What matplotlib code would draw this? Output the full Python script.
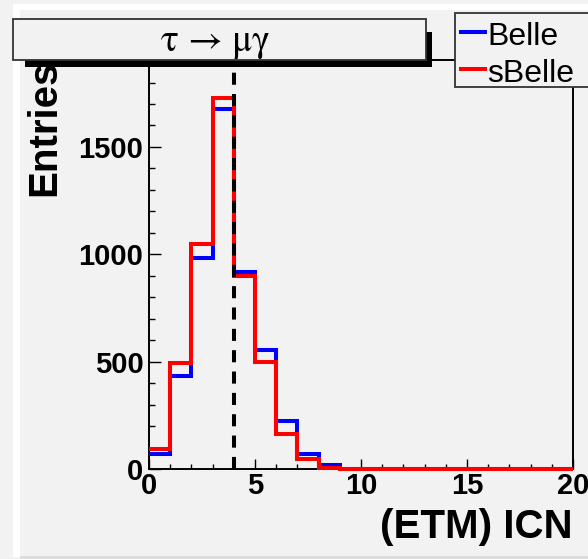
import matplotlib
matplotlib.use('Agg')
import matplotlib.pyplot as plt
from matplotlib.patches import Rectangle
from matplotlib.lines import Line2D
import numpy as np

# histogram contents, 20 bins of width 1 from 0 to 20
bin_edges = list(range(0, 21))
belle = [72, 435, 985, 1675, 918, 553, 225, 70, 20, 0,
         0, 0, 0, 0, 0, 0, 0, 0, 0, 0]
sbelle = [92, 495, 1050, 1730, 900, 497, 163, 45, 5, 0,
          0, 0, 0, 0, 0, 0, 0, 0, 0, 0]
cut_value = 4
xticks = [0, 5, 10, 15, 20]
yticks = [0, 500, 1000, 1500]

W, H = 588, 559
bg = '#f2f2f2'

fig = plt.figure(figsize=(W / 100, H / 100), dpi=100, facecolor=bg)


def fx(px):
    return px / W


def fy(py):
    return 1 - py / H


# axes box in pixels
L, R, T, B = 149, 573, 60, 469
ax = fig.add_axes([fx(L), fy(B), fx(R) - fx(L), fy(T) - fy(B)])
ax.set_facecolor(bg)

ax.stairs(belle, bin_edges, color='#0000ff', lw=2.9, baseline=None,
          clip_on=False, zorder=3)
ax.stairs(sbelle, bin_edges, color='#ff0000', lw=2.9, baseline=None,
          clip_on=False, zorder=4)
ax.axvline(cut_value, color='black', lw=2.9, linestyle=(0, (3.0, 2.3)), zorder=5)

ax.set_xlim(0, 20)
ax.set_ylim(0, 1905)
ax.set_xticks(xticks)
ax.set_xticks(np.arange(0, 21, 1), minor=True)
ax.set_yticks(yticks)
ax.set_yticks(np.arange(0, 1901, 100), minor=True)

for lab in ax.get_xticklabels() + ax.get_yticklabels():
    lab.set_fontfamily('Liberation Sans')
    lab.set_fontweight('bold')
    lab.set_fontsize(21)

ax.tick_params(axis='both', which='both', direction='in', colors='black', width=1.0)
ax.tick_params(axis='x', which='major', length=7.5, pad=2)
ax.tick_params(axis='x', which='minor', length=3.8)
ax.tick_params(axis='y', which='major', length=8.5, pad=4)
ax.tick_params(axis='y', which='minor', length=4.2)
for s in ax.spines.values():
    s.set_linewidth(1.4)
    s.set_color('black')

ax.set_xlabel('(ETM) ICN', loc='right', fontsize=29, fontweight='bold',
              family='Liberation Sans')
ax.xaxis.label.set_verticalalignment('baseline')
ax.xaxis.set_label_coords(1.0, (B - 538) / (B - T))

ax.set_ylabel('Entries', loc='top', fontsize=29, fontweight='bold',
              family='Liberation Sans')
ax.yaxis.label.set_verticalalignment('center')
ax.yaxis.set_label_coords((44 - L) / (R - L), 1.0)

# canvas bevel
fig.add_artist(Rectangle((fx(13), fy(557)), fx(7), fy(4) - fy(557),
                         transform=fig.transFigure, facecolor='white',
                         edgecolor='none', zorder=-1))
fig.add_artist(Rectangle((fx(13), fy(10)), 1, fy(4) - fy(10),
                         transform=fig.transFigure, facecolor='white',
                         edgecolor='none', zorder=-1))
fig.add_artist(Rectangle((fx(20), fy(559)), 1, fy(556) - fy(559),
                         transform=fig.transFigure, facecolor='#dcdcdc',
                         edgecolor='none', zorder=-1))

# title box with shadow
fig.add_artist(Rectangle((fx(25), fy(67)), fx(432) - fx(25), fy(32) - fy(67),
                         transform=fig.transFigure, facecolor='black',
                         edgecolor='none', zorder=10))
fig.add_artist(Rectangle((fx(13), fy(60)), fx(426) - fx(13), fy(19) - fy(60),
                         transform=fig.transFigure, facecolor=bg,
                         edgecolor='#333333', lw=1.3, zorder=11))
fig.text(fx(215), fy(51), 'τ → μγ', ha='center', va='baseline', fontsize=27,
         family=['STIXGeneral', 'DejaVu Serif'], zorder=12)

# legend
fig.add_artist(Rectangle((fx(455), fy(87)), fx(640) - fx(455), fy(13) - fy(87),
                         transform=fig.transFigure, facecolor=bg,
                         edgecolor='#333333', lw=1.3, zorder=11))
for name, col, yl, yb in [('Belle', '#0000ff', 32, 45), ('sBelle', '#ff0000', 69, 82)]:
    fig.add_artist(Line2D([fx(461), fx(485)], [fy(yl), fy(yl)], color=col, lw=2.9,
                          transform=fig.transFigure, zorder=12))
    fig.text(fx(487), fy(yb), name, ha='left', va='baseline', fontsize=23,
             family='Liberation Sans', zorder=12)

fig.savefig('out.png', dpi=100, facecolor=bg)
